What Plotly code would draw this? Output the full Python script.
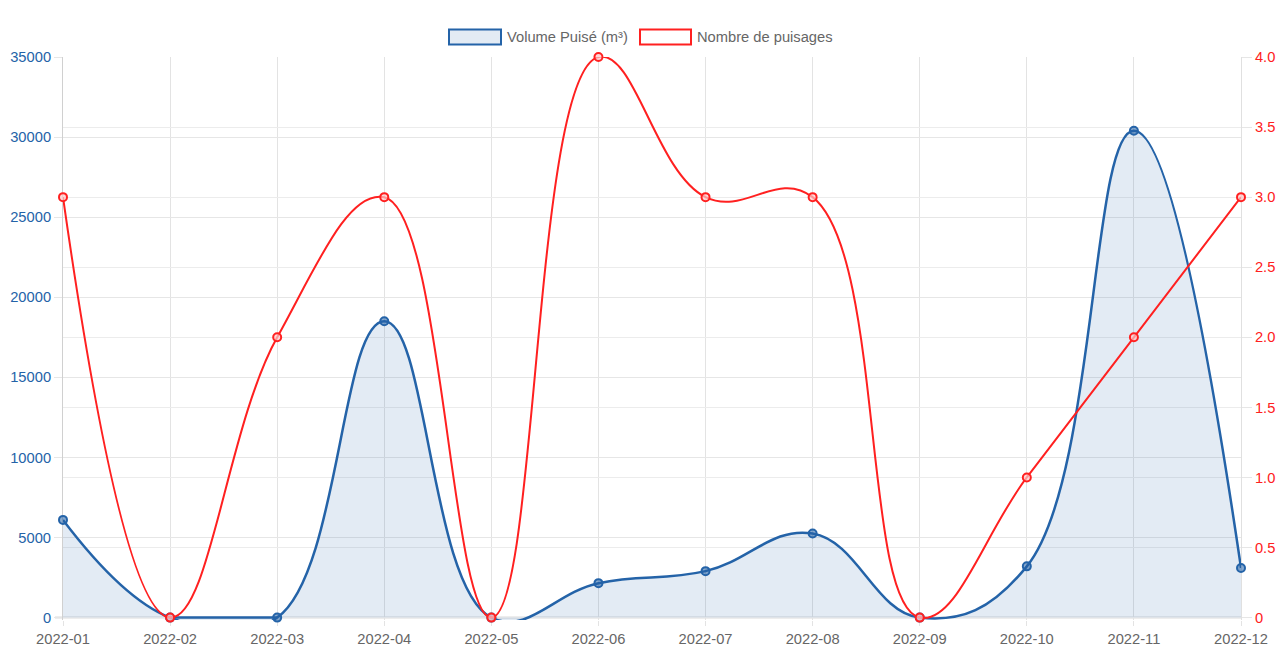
import plotly.graph_objects as go

months = ["2022-01", "2022-02", "2022-03", "2022-04", "2022-05", "2022-06",
          "2022-07", "2022-08", "2022-09", "2022-10", "2022-11", "2022-12"]
volume = [6100, 0, 0, 18500, 0, 2150, 2900, 5250, 0, 3200, 30400, 3100]
puisages = [3, 0, 2, 3, 0, 4, 3, 3, 0, 1, 2, 3]

left_ticks = [0, 5000, 10000, 15000, 20000, 25000, 30000, 35000]
left_labels = [str(v) for v in left_ticks]
right_ticks = [0, 0.5, 1.0, 1.5, 2.0, 2.5, 3.0, 3.5, 4.0]
right_labels = ["0", "0.5", "1.0", "1.5", "2.0", "2.5", "3.0", "3.5", "4.0"]

series_names = ["Volume Puisé (m³)", "Nombre de puisages"]

BLUE = "#2463a8"
RED = "#ff2020"
GRAY = "#666666"
FS = 14.7

Y0_PAD = 150  # small room below zero so lines at 0 are not clipped
W, H = 1278, 645
PL, PR, PT = 63, 1241, 57
PB = 618 + Y0_PAD / 35000 * 561


def px_x(px):
    return (px - PL) / (PR - PL)


def px_y(py):
    return (PB - py) / (PB - PT)


# runs of consecutive zero volumes: chart.js keeps the curve on the baseline there
zero_runs = []
for i, v in enumerate(volume):
    prev_zero = i > 0 and volume[i - 1] == 0
    next_zero = i < len(volume) - 1 and volume[i + 1] == 0
    zero_runs.append(v if v == 0 and (prev_zero or next_zero) else None)

fig = go.Figure()
fig.add_trace(go.Scatter(
    x=months, y=volume, name=series_names[0], mode="lines",
    line=dict(color=BLUE, width=2.5, shape="spline", smoothing=1.2),
    fill="tozeroy", fillcolor="rgba(36,99,168,0.13)",
    yaxis="y", showlegend=False,
))
fig.add_trace(go.Scatter(
    x=months, y=zero_runs, mode="lines", line=dict(color=BLUE, width=2.5),
    yaxis="y", showlegend=False, hoverinfo="skip", connectgaps=False,
))
fig.add_trace(go.Scatter(
    x=months, y=volume, name=series_names[0], mode="markers",
    marker=dict(size=8, color="rgba(36,99,168,0.55)", line=dict(color=BLUE, width=2)),
    yaxis="y", cliponaxis=False, showlegend=False,
))
fig.add_trace(go.Scatter(
    x=months, y=puisages, name=series_names[1], mode="lines+markers",
    line=dict(color=RED, width=2, shape="spline", smoothing=1.2),
    marker=dict(size=8, color="rgba(255,200,200,0.7)", line=dict(color=RED, width=2)),
    yaxis="y2", cliponaxis=False, showlegend=False,
))

shapes = []
annotations = []
# baseline (x axis at zero), drawn beneath the data
shapes.append(dict(type="line", xref="paper", yref="y", x0=px_x(55), x1=1, y0=0, y1=0,
                   line=dict(color="#b8b8b8", width=1.5), layer="below"))

# chart.js-style legend boxes
legend_items = [
    (449, 501, BLUE, "rgba(36,99,168,0.13)", series_names[0], 505),
    (640, 691, RED, "rgba(255,255,255,0)", series_names[1], 695),
]
for x0, x1, lc, fc, txt, tx in legend_items:
    shapes.append(dict(type="rect", xref="paper", yref="paper",
                       x0=px_x(x0), x1=px_x(x1), y0=px_y(44.5), y1=px_y(29.5),
                       line=dict(color=lc, width=2), fillcolor=fc, layer="above"))
    annotations.append(dict(xref="paper", yref="paper", x=px_x(tx), y=px_y(37),
                            xanchor="left", yanchor="middle", text=txt, showarrow=False,
                            font=dict(size=FS, color=GRAY)))

fig.update_layout(
    width=W, height=H,
    margin=dict(l=PL, r=W - PR, t=PT, b=H - PB, autoexpand=False),
    paper_bgcolor="white", plot_bgcolor="white",
    font=dict(family="Liberation Sans, Arial, sans-serif", size=FS, color=GRAY),
    showlegend=False,
    shapes=shapes, annotations=annotations,
    xaxis=dict(type="category", showgrid=True, gridcolor="#e3e3e3", gridwidth=1,
               showline=False, automargin=False,
               ticks="outside", ticklen=5, tickcolor="#e3e3e3",
               tickfont=dict(color=GRAY, size=FS), range=[0, 11], zeroline=False,
               layer="below traces"),
    yaxis=dict(range=[-Y0_PAD, 35000], tickvals=left_ticks, ticktext=left_labels,
               showgrid=True, gridcolor="#e6e6e6", automargin=False,
               tickfont=dict(color=BLUE, size=FS), showline=True, linecolor="#d0d0d0",
               ticks="outside", ticklen=8, tickcolor="#e6e6e6",
               zeroline=False, layer="below traces"),
    yaxis2=dict(range=[-Y0_PAD / 35000 * 4, 4], tickvals=right_ticks, ticktext=right_labels,
                overlaying="y", side="right", showgrid=True, gridcolor="#ececec",
                automargin=False,
                tickfont=dict(color=RED, size=FS), showline=True, linecolor="#e0e0e0",
                ticks="outside", ticklen=10, tickcolor="#e6e6e6", zeroline=False,
                layer="below traces"),
)

fig.write_html(
    "out.html",
    config={"displayModeBar": False},
    post_script="document.body.style.margin='0';document.body.style.overflow='hidden';",
)
